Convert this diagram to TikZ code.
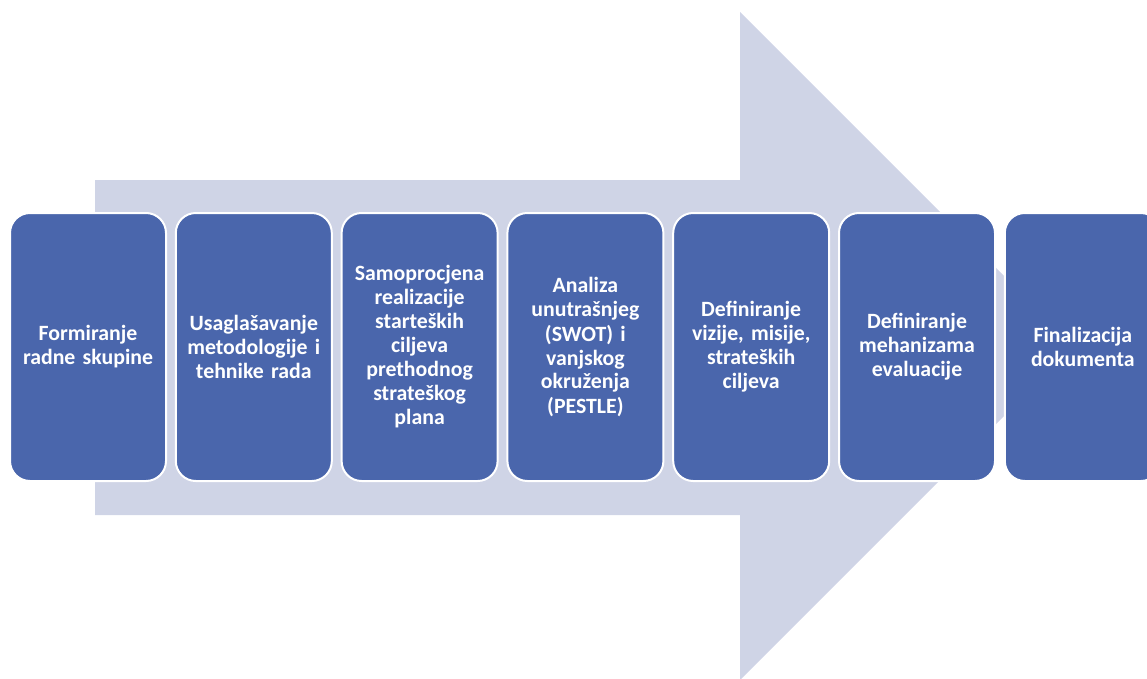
\documentclass[tikz,border=0pt]{standalone}
\usepackage{fontspec}
\setmainfont[WordSpace=0.8]{Carlito}
\usepackage{xcolor}
\definecolor{PhaseBlue} {HTML}{4A66AC}
\definecolor{ArrowLilac}{HTML}{CFD4E6}
\usetikzlibrary{positioning}

\begin{document}
\begin{tikzpicture}[x=1pt,y=-1pt,
  phase/.style={draw=white,line width=2pt,fill=PhaseBlue,rounded corners=20pt,
    text=white,font=\fontsize{21.8}{24}\selectfont\bfseries,align=center,
    inner sep=3pt,outer sep=0pt,text width=150pt,minimum height=268pt},
  node distance=9.8pt]
  \useasboundingbox (0,0) rectangle (1147,679);
  \clip (0,0) rectangle (1147,679);
  % Background arrow
  \fill[ArrowLilac] (95,180) -- (740,180) -- (740,12) -- (1074,346)
    -- (740,680) -- (740,515) -- (95,515) -- cycle;
  % Phases
  \node[phase] (P1) at (88,347) {Formiranje\\radne skupine};
  \node[phase,right=of P1] (P2) {Usaglašavanje\\metodologije i\\tehnike rada};
  \node[phase,right=of P2] (P3) {Samoprocjena\\realizacije\\starteških\\ciljeva\\prethodnog\\strateškog\\plana};
  \node[phase,right=of P3] (P4) {Analiza\\unutrašnjeg\\(SWOT) i\\vanjskog\\okruženja\\(PESTLE)};
  \node[phase,right=of P4] (P5) {Definiranje\\vizije, misije,\\strateških\\ciljeva};
  \node[phase,right=of P5] (P6) {Definiranje\\mehanizama\\evaluacije};
  \node[phase,right=of P6] (P7) {Finalizacija\\dokumenta};
\end{tikzpicture}
\end{document}
